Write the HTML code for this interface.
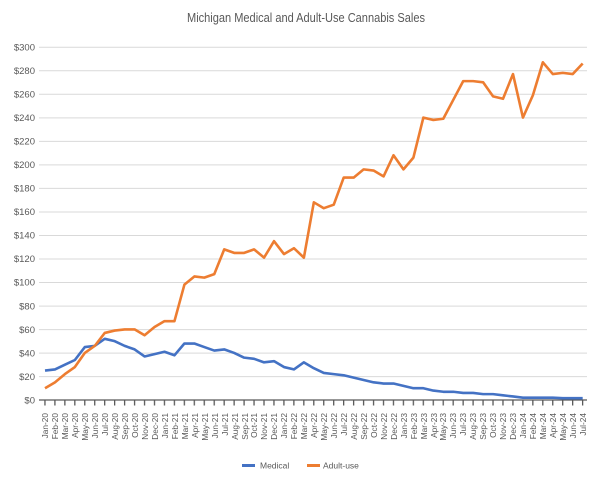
<!DOCTYPE html>
<html><head><meta charset="utf-8"><style>
html,body{margin:0;padding:0;background:#fff;}
svg{display:block;font-family:"Liberation Sans",sans-serif;}
</style></head><body>
<svg width="612" height="477" viewBox="0 0 612 477">
<rect width="612" height="477" fill="#fff"/>
<text x="306" y="22" text-anchor="middle" font-size="13" fill="#595959" textLength="238" lengthAdjust="spacingAndGlyphs">Michigan Medical and Adult-Use Cannabis Sales</text>
<g stroke="#d9d9d9" stroke-width="1">
<line x1="39" x2="587" y1="47.3" y2="47.3"/><line x1="39" x2="587" y1="70.8" y2="70.8"/><line x1="39" x2="587" y1="94.3" y2="94.3"/><line x1="39" x2="587" y1="117.9" y2="117.9"/><line x1="39" x2="587" y1="141.4" y2="141.4"/><line x1="39" x2="587" y1="164.9" y2="164.9"/><line x1="39" x2="587" y1="188.4" y2="188.4"/><line x1="39" x2="587" y1="212" y2="212"/><line x1="39" x2="587" y1="235.5" y2="235.5"/><line x1="39" x2="587" y1="259" y2="259"/><line x1="39" x2="587" y1="282.5" y2="282.5"/><line x1="39" x2="587" y1="306.1" y2="306.1"/><line x1="39" x2="587" y1="329.6" y2="329.6"/><line x1="39" x2="587" y1="353.1" y2="353.1"/><line x1="39" x2="587" y1="376.6" y2="376.6"/>
</g>
<g font-size="9.5" fill="#595959" text-anchor="end">
<text x="35" y="50.5">$300</text><text x="35" y="74">$280</text><text x="35" y="97.5">$260</text><text x="35" y="121">$240</text><text x="35" y="144.6">$220</text><text x="35" y="168.1">$200</text><text x="35" y="191.6">$180</text><text x="35" y="215.2">$160</text><text x="35" y="238.7">$140</text><text x="35" y="262.2">$120</text><text x="35" y="285.7">$100</text><text x="35" y="309.3">$80</text><text x="35" y="332.8">$60</text><text x="35" y="356.3">$40</text><text x="35" y="379.8">$20</text><text x="35" y="403.4">$0</text>
</g>
<defs><pattern id="tk" x="44.3" y="0" width="9.957" height="10" patternUnits="userSpaceOnUse"><rect x="0" y="0" width="1.3" height="10" fill="#595959"/></pattern></defs>
<rect x="44" y="400" width="540" height="5.5" fill="url(#tk)"/>
<line x1="39" x2="587" y1="400" y2="400" stroke="#595959" stroke-width="1.2"/>
<g transform="translate(45,400) scale(9.957,-1.1767)" fill="none" stroke-width="2.6" stroke-linejoin="round">
<polyline vector-effect="non-scaling-stroke" stroke="#4472C4" points="0,25 1,26 2,30 3,34 4,45 5,46 6,52 7,50 8,46 9,43 10,37 11,39 12,41 13,38 14,48 15,48 16,45 17,42 18,43 19,40 20,36 21,35 22,32 23,33 24,28 25,26 26,32 27,27 28,23 29,22 30,21 31,19 32,17 33,15 34,14 35,14 36,12 37,10 38,10 39,8 40,7 41,7 42,6 43,6 44,5 45,5 46,4 47,3 48,2 49,2 50,2 51,2 52,1.5 53,1.5 54,1.5"/>
<polyline vector-effect="non-scaling-stroke" stroke="#ED7D31" points="0,10 1,15 2,22 3,28 4,40 5,46 6,57 7,59 8,60 9,60 10,55 11,62 12,67 13,67 14,98 15,105 16,104 17,107 18,128 19,125 20,125 21,128 22,121 23,135 24,124 25,129 26,121 27,168 28,163 29,166 30,189 31,189 32,196 33,195 34,190 35,208 36,196 37,206 38,240 39,238 40,239 41,255 42,271 43,271 44,270 45,258 46,256 47,277 48,240 49,259 50,287 51,277 52,278 53,277 54,286"/>
</g>
<g font-size="8.3" fill="#595959" text-anchor="end">
<text transform="translate(48,413) rotate(-90)">Jan-20</text>
<text transform="translate(58,413) rotate(-90)">Feb-20</text>
<text transform="translate(68,413) rotate(-90)">Mar-20</text>
<text transform="translate(78,413) rotate(-90)">Apr-20</text>
<text transform="translate(88,413) rotate(-90)">May-20</text>
<text transform="translate(98,413) rotate(-90)">Jun-20</text>
<text transform="translate(108,413) rotate(-90)">Jul-20</text>
<text transform="translate(118,413) rotate(-90)">Aug-20</text>
<text transform="translate(128,413) rotate(-90)">Sep-20</text>
<text transform="translate(138,413) rotate(-90)">Oct-20</text>
<text transform="translate(148,413) rotate(-90)">Nov-20</text>
<text transform="translate(158,413) rotate(-90)">Dec-20</text>
<text transform="translate(168,413) rotate(-90)">Jan-21</text>
<text transform="translate(178,413) rotate(-90)">Feb-21</text>
<text transform="translate(188,413) rotate(-90)">Mar-21</text>
<text transform="translate(198,413) rotate(-90)">Apr-21</text>
<text transform="translate(208,413) rotate(-90)">May-21</text>
<text transform="translate(218,413) rotate(-90)">Jun-21</text>
<text transform="translate(228,413) rotate(-90)">Jul-21</text>
<text transform="translate(238,413) rotate(-90)">Aug-21</text>
<text transform="translate(248,413) rotate(-90)">Sep-21</text>
<text transform="translate(257,413) rotate(-90)">Oct-21</text>
<text transform="translate(267,413) rotate(-90)">Nov-21</text>
<text transform="translate(277,413) rotate(-90)">Dec-21</text>
<text transform="translate(287,413) rotate(-90)">Jan-22</text>
<text transform="translate(297,413) rotate(-90)">Feb-22</text>
<text transform="translate(307,413) rotate(-90)">Mar-22</text>
<text transform="translate(317,413) rotate(-90)">Apr-22</text>
<text transform="translate(327,413) rotate(-90)">May-22</text>
<text transform="translate(337,413) rotate(-90)">Jun-22</text>
<text transform="translate(347,413) rotate(-90)">Jul-22</text>
<text transform="translate(357,413) rotate(-90)">Aug-22</text>
<text transform="translate(367,413) rotate(-90)">Sep-22</text>
<text transform="translate(377,413) rotate(-90)">Oct-22</text>
<text transform="translate(387,413) rotate(-90)">Nov-22</text>
<text transform="translate(397,413) rotate(-90)">Dec-22</text>
<text transform="translate(407,413) rotate(-90)">Jan-23</text>
<text transform="translate(417,413) rotate(-90)">Feb-23</text>
<text transform="translate(427,413) rotate(-90)">Mar-23</text>
<text transform="translate(437,413) rotate(-90)">Apr-23</text>
<text transform="translate(446,413) rotate(-90)">May-23</text>
<text transform="translate(456,413) rotate(-90)">Jun-23</text>
<text transform="translate(466,413) rotate(-90)">Jul-23</text>
<text transform="translate(476,413) rotate(-90)">Aug-23</text>
<text transform="translate(486,413) rotate(-90)">Sep-23</text>
<text transform="translate(496,413) rotate(-90)">Oct-23</text>
<text transform="translate(506,413) rotate(-90)">Nov-23</text>
<text transform="translate(516,413) rotate(-90)">Dec-23</text>
<text transform="translate(526,413) rotate(-90)">Jan-24</text>
<text transform="translate(536,413) rotate(-90)">Feb-24</text>
<text transform="translate(546,413) rotate(-90)">Mar-24</text>
<text transform="translate(556,413) rotate(-90)">Apr-24</text>
<text transform="translate(566,413) rotate(-90)">May-24</text>
<text transform="translate(576,413) rotate(-90)">Jun-24</text>
<text transform="translate(586,413) rotate(-90)">Jul-24</text>
</g>
<rect x="242" y="464" width="13" height="3" fill="#4472C4"/>
<text x="260" y="468.5" font-size="8.5" fill="#595959">Medical</text>
<rect x="307" y="464" width="13" height="3" fill="#ED7D31"/>
<text x="323" y="468.5" font-size="8.5" fill="#595959">Adult-use</text>
</svg>
</body></html>
